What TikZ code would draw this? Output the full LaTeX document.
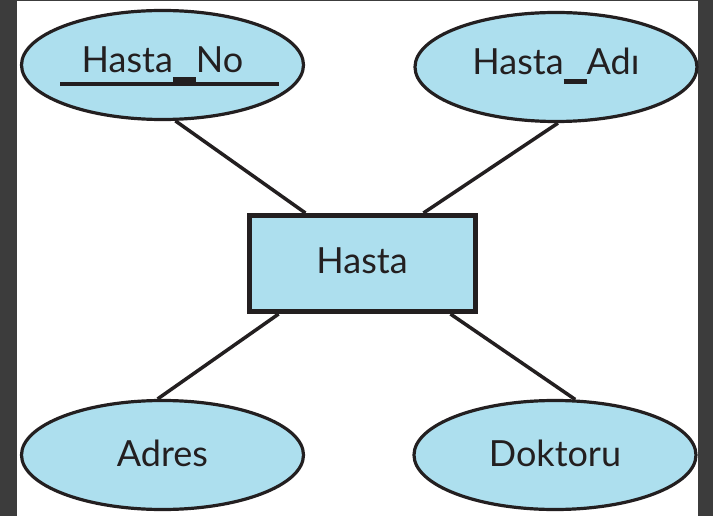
\documentclass[tikz,border=0pt]{standalone}
\usepackage{fontspec}
\setmainfont{Lato}
\usetikzlibrary{positioning, shapes.geometric, calc}
\definecolor{erblue}{HTML}{ADDFEE}
\definecolor{erink}{HTML}{231F20}
\definecolor{framegray}{HTML}{3C3C3C}
\newcommand{\erus}{\rule[-9pt]{23pt}{5pt}}

\begin{document}
\begin{tikzpicture}[x=1pt, y=-1pt,
    every node/.style={font=\fontsize{36}{40}\selectfont, text=erink},
    attr/.style={ellipse, draw=erink, line width=3.2pt, fill=erblue,
      minimum width=282pt, minimum height=109pt, inner sep=0pt,
      text height=26pt, text depth=10pt},
    entity/.style={rectangle, draw=erink, line width=5pt, fill=erblue,
      minimum width=226pt, minimum height=96pt, inner sep=0pt,
      text height=26pt, text depth=7pt},
    link/.style={draw=erink, line width=3.5pt},
  ]
  % frame
  \fill[framegray] (0,0) rectangle (713,516);
  \fill[white] (17,1.5) rectangle (697.5,516);
  \useasboundingbox (0,0) rectangle (713,516);

  \node[entity] (hasta) at (362,263.5) {Hasta};
  \node[attr] (no) at (162.5,65) {Hasta\erus No};
  \node[attr] (adi) at (556,67) {Hasta\erus Adı};
  \node[attr, text depth=3pt] (adres) at (162.5,455) {Adres};
  \node[attr, text depth=3pt] (doktor) at (555,455) {Doktoru};

  % key underline
  \draw[erink, line width=3.5pt] (60,84) -- (279,84);

  \draw[link] (no.-77) -- ($(hasta.north west)!0.255!(hasta.north east)$);
  \draw[link] (adi.-88) -- ($(hasta.north west)!0.766!(hasta.north east)$);
  \draw[link] (adres.95) -- ($(hasta.south west)!0.139!(hasta.south east)$);
  \draw[link] (doktor.70) -- ($(hasta.south west)!0.883!(hasta.south east)$);
\end{tikzpicture}
\end{document}
